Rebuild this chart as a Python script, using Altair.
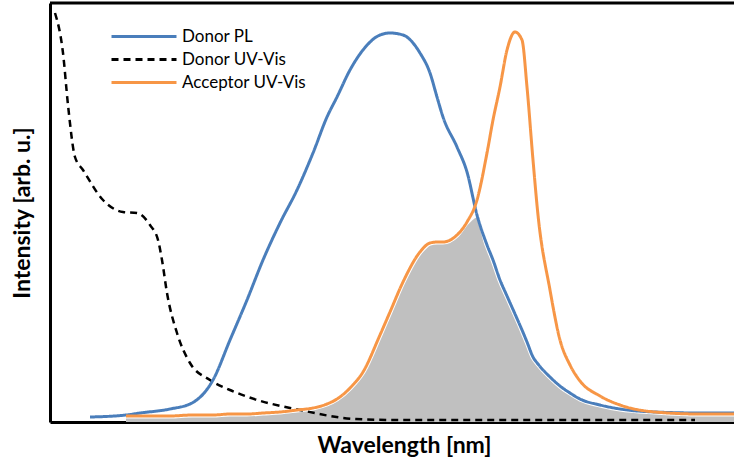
import altair as alt
import pandas as pd

# ---- data (wavelength in nm, intensity in arb. u.) ----
wavelength = [270, 288, 295, 310, 321, 331.5, 340, 348.5, 356.5, 365, 373.5, 381.5,
              388.5, 393.5, 400, 406.5, 415, 420, 426.5, 435, 440, 443.5, 446.5,
              453.5, 458.5, 463.5, 468.5, 471.5, 475, 478.5, 482.5, 486, 488.5,
              491.5, 494, 500, 505, 510, 515, 525, 535, 552.5, 575, 592]
donor_pl = [5, 7, 9, 13, 19, 42, 82, 122, 162, 199, 232, 269,
            305, 325, 352, 372, 387, 389, 387, 369, 349, 325, 305,
            275, 250, 207, 177, 162, 142, 126, 108, 92, 80,
            65, 58, 45, 36, 29, 23, 17, 13, 10, 9, 9]
acceptor_uv = [None, 6, 6, 6, 7, 7, 8, 8, 9, 10, 12, 14,
               18, 23, 34, 50, 87, 110, 140, 170, 179, 180, 180,
               187, 200, 222, 269, 302, 335, 372, 390, 382, 335,
               262, 207, 132, 82, 57, 41, 26, 17, 10, 8, 8]

donor_uv_wl = [252.5, 256.5, 259, 262.5, 266.5, 276.5, 286.5, 293.5, 300, 304, 306,
               308.5, 313.5, 320, 330, 340, 349, 375, 403, 425, 572.5]
donor_uv = [409, 369, 317, 265, 252, 222, 210, 209, 197, 182, 162,
            129, 89, 59, 42, 32, 25, 12, 3, 2, 2]

series = ["Donor PL", "Donor UV-Vis", "Acceptor UV-Vis"]
colors = ["#4a7ebb", "#000000", "#f79646"]
dashes = [[1, 0], [7, 5], [1, 0]]

rows = []
for w, v in zip(wavelength, donor_pl):
    rows.append({"wl": w, "val": v, "series": "Donor PL"})
for w, v in zip(wavelength, acceptor_uv):
    if v is not None:
        rows.append({"wl": w, "val": v, "series": "Acceptor UV-Vis"})
for w, v in zip(donor_uv_wl, donor_uv):
    rows.append({"wl": w, "val": v, "series": "Donor UV-Vis"})
df = pd.DataFrame(rows)

overlap = pd.DataFrame([
    {"wl": w, "val": min(a, b)}
    for w, a, b in zip(wavelength, donor_pl, acceptor_uv) if b is not None
])

FONT = "Lato"
xscale = alt.Scale(domain=[250, 592], nice=False, zero=False)
yscale = alt.Scale(domain=[0, 419], nice=False)
xaxis = alt.Axis(title="Wavelength [nm]", labels=False, ticks=False, grid=False,
                 domainColor="black", domainWidth=3, titleFontSize=23,
                 titleFontWeight="bold", titleFont=FONT, titleColor="black",
                 titlePadding=12, titleX=354, titleAlign="center")
yaxis = alt.Axis(title="Intensity [arb. u.]", labels=False, ticks=False, grid=False,
                 domainColor="black", domainWidth=3, titleFontSize=23,
                 titleFontWeight="bold", titleFont=FONT, titleColor="black",
                 titlePadding=16)

X = alt.X("wl:Q", scale=xscale, axis=xaxis)
Y = alt.Y("val:Q", scale=yscale, axis=yaxis)

legend = alt.Legend(title=None, orient="none", legendX=85.5, legendY=25,
                    symbolType="M-6.5,0H6.5", symbolSize=100, symbolStrokeWidth=3,
                    labelFont=FONT, labelFontSize=17, labelColor="black",
                    labelOffset=29.5, rowPadding=5, padding=0)
color = alt.Color("series:N", scale=alt.Scale(domain=series, range=colors), legend=legend)
dash = alt.StrokeDash("series:N", scale=alt.Scale(domain=series, range=dashes), legend=legend)

base = alt.Chart(df)

area = alt.Chart(overlap).mark_area(color="#c0c0c0", interpolate="monotone").encode(x=X, y=Y)
rim = alt.Chart(overlap).mark_line(color="white", strokeWidth=5, interpolate="monotone").encode(x=X, y=Y)

def series_line(name, width):
    return base.transform_filter(alt.datum.series == name).mark_line(
        strokeWidth=width, interpolate="monotone").encode(x=X, y=Y, color=color, strokeDash=dash)

dashed = series_line("Donor UV-Vis", 2.5)
blue = series_line("Donor PL", 3)
orange = series_line("Acceptor UV-Vis", 3)

top = alt.Chart(pd.DataFrame({"a": [0]})).mark_rule(color="black", strokeWidth=3).encode(
    x=alt.datum(250, scale=xscale), x2=alt.datum(592), y=alt.datum(419, scale=yscale))

chart = alt.layer(area, rim, dashed, blue, orange, top).properties(
    width=684, height=419,
    autosize=alt.AutoSizeParams(type="none"),
    padding={"left": 50, "top": 3, "right": 0, "bottom": 46},
).configure_view(stroke=None).configure(font=FONT)

chart.save("out.html", embed_options={"renderer": "svg", "actions": False})
